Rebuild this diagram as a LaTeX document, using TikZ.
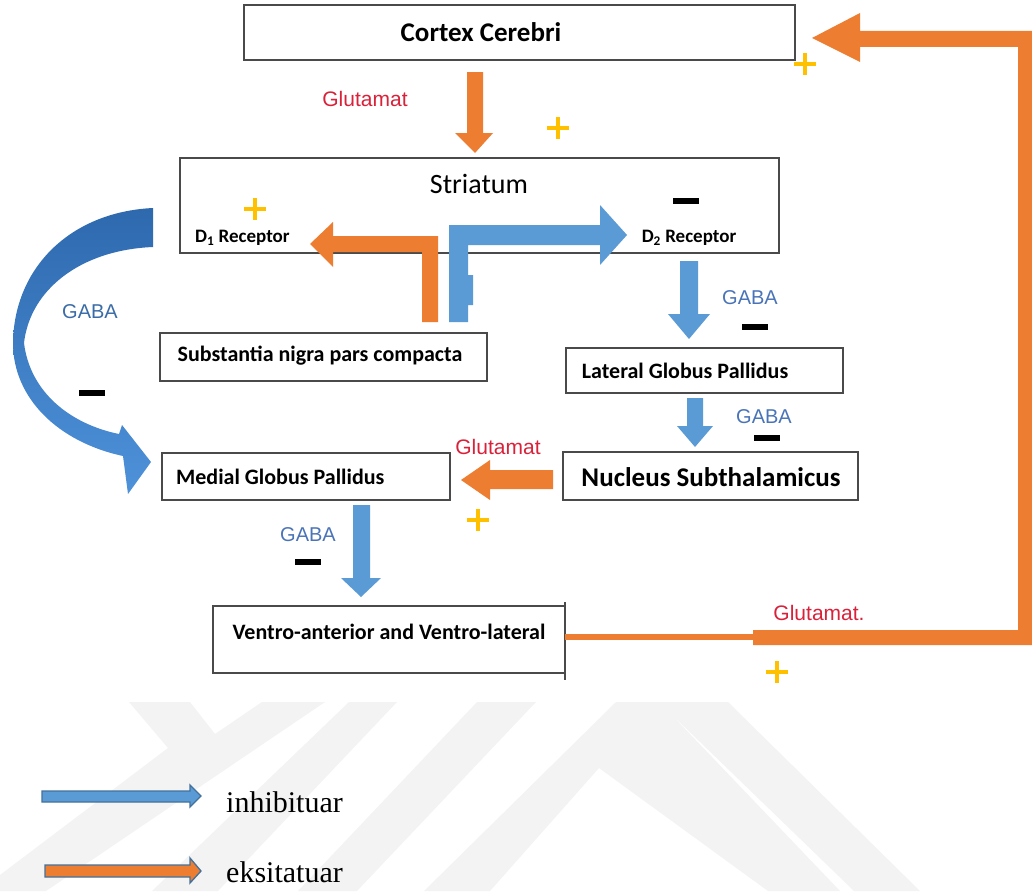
\documentclass[tikz,border=0pt]{standalone}
\usepackage{fontspec}
\setmainfont{Carlito}
\newfontfamily\arialf{Liberation Sans}
\newfontfamily\timesf{Liberation Serif}
\usetikzlibrary{calc}
\definecolor{orng}{HTML}{ED7D31}
\definecolor{blu}{HTML}{5B9BD5}
\definecolor{bluedge}{HTML}{41719C}
\definecolor{darkblu}{HTML}{2E69AE}
\definecolor{lightblu}{HTML}{4E92DA}
\definecolor{gabablue}{HTML}{4A74B8}
\definecolor{glured}{HTML}{D9213A}
\definecolor{plusyel}{HTML}{FFC000}
\definecolor{boxline}{HTML}{4A4A4A}
\definecolor{wm}{HTML}{F3F3F3}
\begin{document}
\begin{tikzpicture}[x=1pt,y=-1pt,
  box/.style={draw=boxline, line width=1.4pt, fill=white, anchor=north west, inner sep=0pt, outer sep=0pt},
  lbl/.style={inner sep=0pt, font=\bfseries\fontsize{22}{26}\selectfont},
  gaba/.style={inner sep=0pt, text=gabablue, font=\arialf\fontsize{20}{24}\selectfont},
  glu/.style={inner sep=0pt, text=glured, font=\arialf\fontsize{21}{25}\selectfont},
  legtxt/.style={inner sep=0pt, anchor=base west, font=\timesf\fontsize{30}{34}\selectfont},
  plusmark/.pic={\draw[plusyel, line width=4pt] (-11,0) -- (11,0) (0,-11) -- (0,11);},
  minusmark/.pic={\fill[black] (-13,-3) rectangle (13,3);}
]
\useasboundingbox (0,0) rectangle (1032,891);
\fill[white] (0,0) rectangle (1032,891);

% watermark
\fill[wm] (129,702) -- (190,702) -- (215,734) -- (262,702) -- (325,702) -- (46,891) -- (0,891) -- (0,875) -- (168,748) -- cycle;
\fill[wm] (349,702) -- (397,702) -- (218,891) -- (152,891) -- cycle;
\fill[wm] (477,702) -- (536,702) -- (357,891) -- (298,891) -- cycle;
\fill[wm] (616,702) -- (728,702) -- (920,891) -- (854,891) -- (669,712) -- (840,891) -- (768,891) -- (599,768) -- (490,891) -- (424,891) -- cycle;

% boxes
\node[box, minimum width=599pt, minimum height=95pt] (striatum) at (180,158) {};
\node[box, minimum width=551pt, minimum height=55pt] (cortex) at (244,5) {};
\node[box, minimum width=327pt, minimum height=48pt] (sn) at (160,333) {};
\node[box, minimum width=277pt, minimum height=45pt] (lgp) at (566,348) {};
\node[box, minimum width=288pt, minimum height=47pt] (mgp) at (162,453) {};
\node[box, minimum width=295pt, minimum height=48pt] (ns) at (563,452) {};
\node[box, minimum width=352pt, minimum height=67pt] (va) at (213,606) {};
\draw[boxline, line width=1.4pt] (va.north east) ++(0,-4) coordinate (vatop) -- ($(va.south east)+(0,7)$) coordinate (vabot);

% box texts
\node[inner sep=0pt, font=\bfseries\fontsize{27}{32}\selectfont] (tcortex) at (481,32) {Cortex Cerebri};
\node[inner sep=0pt, font=\fontsize{28}{32}\selectfont] (tstriatum) at (479,184) {Striatum};
\node[inner sep=0pt, anchor=west, font=\bfseries\fontsize{19}{22}\selectfont] (td1) at (195,238) {D\textsubscript{1} Receptor};
\node[inner sep=0pt, font=\bfseries\fontsize{19}{22}\selectfont] (td2) at (689,238) {D\textsubscript{2} Receptor};
\node[lbl] (tsn) at (320,356) {Substantia nigra pars compacta};
\node[lbl] (tlgp) at (685,371) {Lateral Globus Pallidus};
\node[lbl, anchor=west] (tmgp) at (176,477) {Medial Globus Pallidus};
\node[inner sep=0pt, font=\bfseries\fontsize{27}{32}\selectfont] (tns) at (711,477) {Nucleus Subthalamicus};
\node[lbl] (tva) at (389,632) {Ventro-anterior and Ventro-lateral};

% Cortex -> Striatum (orange down)
\fill[orng] (467,72) -- (483,72) -- (483,133) -- (493,133) -- (475,153) -- (455,133) -- (467,133) -- cycle;

% Orange L arrow to D1
\fill[orng] (422,322) -- (438,322) -- (438,236) -- (333,236) -- (333,222) -- (310,244) -- (333,267) -- (333,252) -- (422,252) -- cycle;

% Blue L arrow to D2
\fill[blu] (449,322) -- (449,225) -- (600,225) -- (600,205) -- (627,235) -- (600,265) -- (600,245) -- (468,245) -- (468,275) -- (473,275) -- (473,305) -- (468,305) -- (468,322) -- cycle;

% D2 -> LGP (blue down)
\fill[blu] (680,261) -- (698,261) -- (698,314) -- (710,314) -- (689,339) -- (668,314) -- (680,314) -- cycle;

% LGP -> NS (blue down)
\fill[blu] (687,398) -- (703,398) -- (703,426) -- (713,426) -- (695,447) -- (677,426) -- (687,426) -- cycle;

% NS -> MGP (orange left)
\fill[orng] (553,470) -- (553,489) -- (490,489) -- (490,500) -- (461,480) -- (490,460) -- (490,470) -- cycle;

% MGP -> VA (blue down)
\fill[blu] (353,505) -- (370,505) -- (370,578) -- (381,578) -- (361,597) -- (341,578) -- (353,578) -- cycle;

% big curved blue arrow (striatum -> MGP)
\shade[top color=darkblu, bottom color=lightblu]
  (153,208) .. controls (70,212) and (14,268) .. (13,343)
  .. controls (13,398) and (58,442) .. (123,456)
  -- (128,494) -- (151,462) -- (122,425) -- (119,434)
  .. controls (70,424) and (30,392) .. (24,343)
  .. controls (30,290) and (80,250) .. (153,247) -- cycle;

% feedback VA -> Cortex
\draw[orng, line width=6pt] (va.east |- 0,637) -- (755,637);
\fill[orng] (753,630) -- (1018,630) -- (1018,47) -- (860,47) -- (860,62) -- (812,38) -- (860,13) -- (860,31) -- (1032,31) -- (1032,645) -- (753,645) -- cycle;

% labels
\node[glu] (g1) at (365,99) {Glutamat};
\node[glu] (g2) at (498,447) {Glutamat};
\node[glu] (g3) at (819,613) {Glutamat.};
\node[gaba, text=darkblu!85!gray] (ga0) at (90,312) {GABA};
\node[gaba] (ga1) at (750,298) {GABA};
\node[gaba] (ga2) at (764,417) {GABA};
\node[gaba] (ga3) at (308,535) {GABA};

% plus and minus marks
\pic at (558,128) {plusmark};
\pic at (255,209) {plusmark};
\pic at (805,64) {plusmark};
\pic at (478,520) {plusmark};
\pic at (777,672) {plusmark};
\pic at (686,201) {minusmark};
\pic at (755,327) {minusmark};
\pic at (767,438) {minusmark};
\pic at (308,562) {minusmark};
\pic at (92,393) {minusmark};

% legend
\filldraw[fill=blu, draw=bluedge, line width=1.3pt] (42,791) -- (190,791) -- (190,785) -- (201,796) -- (190,807) -- (190,802) -- (42,802) -- cycle;
\filldraw[fill=orng, draw=bluedge, line width=1.3pt] (45,865) -- (190,865) -- (190,858) -- (201,871) -- (190,883) -- (190,877) -- (45,877) -- cycle;
\node[legtxt] (linh) at (226,812) {inhibituar};
\node[legtxt] (lexc) at (226,882) {eksitatuar};
\end{tikzpicture}
\end{document}
